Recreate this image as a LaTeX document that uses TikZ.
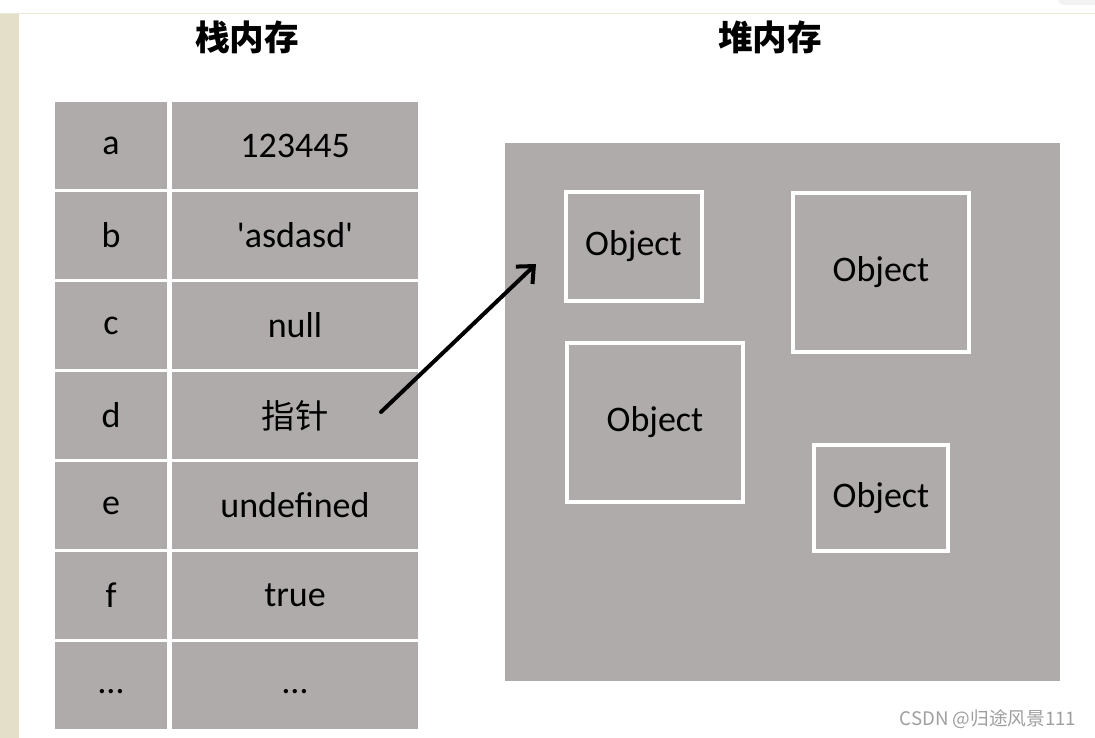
\documentclass[tikz,border=0pt]{standalone}
\usepackage{fontspec}
\setmainfont{Carlito}
\newfontfamily\cjk{Noto Sans CJK SC}
\usetikzlibrary{arrows.meta,positioning}
\definecolor{memgray}{RGB}{175,171,171}
\definecolor{sidebar}{RGB}{227,223,201}

\begin{document}
\begin{tikzpicture}[
    x=0.75pt, y=-0.75pt,
    cell/.style={rectangle, fill=memgray, inner sep=0pt, minimum height=65.25pt, font=\fontsize{27}{30}\selectfont},
    keycell/.style={cell, minimum width=84pt},
    valcell/.style={cell, minimum width=184.5pt},
    title/.style={font=\cjk\bfseries\fontsize{26}{30}\selectfont},
    obj/.style={rectangle, draw=white, line width=3pt, fill=memgray, inner sep=0pt, font=\fontsize{27}{30}\selectfont}
]

% page frame
\fill[white] (0,0) rectangle (1095,738);
\useasboundingbox (0,0) rectangle (1095,738);
\fill[sidebar] (0,14) rectangle (19,738);
\draw[sidebar!70, line width=0.75pt] (0,13.5) -- (1095,13.5);
\fill[gray!10, rounded corners=5pt] (1058,-6) rectangle (1101,5);

% titles
\node[title] (stacktitle) at (247,37) {栈内存};
\node[title] (heaptitle) at (770,37) {堆内存};

% stack
\foreach \k/\v [count=\i] in {a/123445, b/\textquotesingle asdasd\textquotesingle, c/null, d/{\cjk\fontsize{25}{30}\selectfont 指针}, e/undefined, f/true, {\vphantom{x}\dots}/{\vphantom{x}\dots}} {
    \node[keycell] (key\i) at (111,{145.5+90*(\i-1)}) {\k};
    \node[valcell] (val\i) at (295,{145.5+90*(\i-1)}) {\v};
}

% heap
\node[rectangle, fill=memgray, minimum width=416.25pt, minimum height=403.5pt] (heap) at (782.5,412) {};
\node[obj, minimum width=102pt, minimum height=81.75pt] (obj1) at (633.5,246) {Object};
\node[obj, minimum width=132pt, minimum height=119.25pt] (obj2) at (881,272.5) {Object};
\node[obj, minimum width=132pt, minimum height=119.25pt] (obj3) at (655,422.5) {Object};
\node[obj, minimum width=100.5pt, minimum height=79.5pt] (obj4) at (881,498) {Object};

% pointer
\coordinate (ptrtail) at (381,412);
\coordinate (ptrhead) at (536,264);
\draw[-{Straight Barb[length=10pt,width=18pt]}, line width=3pt, line cap=round] (ptrtail) -- (ptrhead);

% watermark
\node[font=\cjk\fontsize{14}{16}\selectfont, text=gray!75, anchor=east] (mark) at (1081,719) {CSDN @归途风景111};

\end{tikzpicture}
\end{document}
